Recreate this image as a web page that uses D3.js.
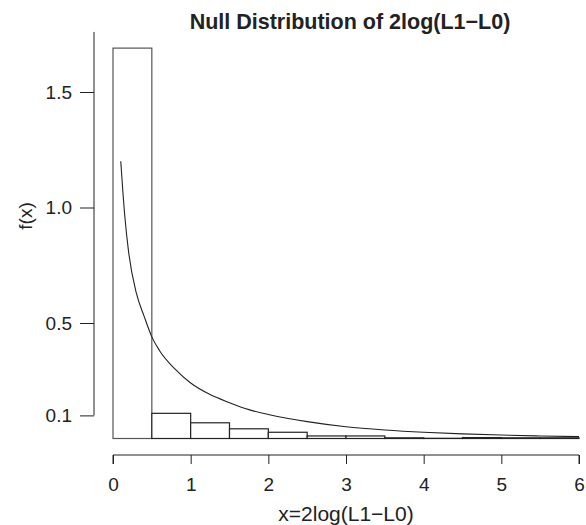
<html>
<script src='https://d3js.org/d3.v7.min.js'></script>
<body style="margin:0">
<svg width=586 height=525></svg>
<script>
// histogram bins (width 0.5) and density heights
var binStarts = [0, 0.5, 1, 1.5, 2, 2.5, 3, 3.5, 4, 4.5, 5, 5.5];
var binHeights = [1.69, 0.109, 0.068, 0.042, 0.027, 0.011, 0.011, 0.003, 0.001, 0.004, 0.003, 0.003];
var binWidth = 0.5;

// overlaid density curve
var curveX = [0.1, 0.15, 0.2, 0.3, 0.4, 0.5, 0.6, 0.8, 1, 1.25, 1.5, 1.75, 2, 2.5, 3, 3.5, 4, 4.5, 5, 5.5, 6];
var curveY = [1.20, 0.97, 0.81, 0.63, 0.53, 0.44, 0.38, 0.30, 0.24, 0.19, 0.155, 0.125, 0.104, 0.073, 0.051, 0.037, 0.027, 0.020, 0.015, 0.011, 0.008];

var xTicks = [0, 1, 2, 3, 4, 5, 6];
var yTicks = [0.1, 0.5, 1.0, 1.5];

var x = d3.scaleLinear().domain([0, 6]).range([113, 579]);
var y = d3.scaleLinear().domain([0, 1.5]).range([438.5, 92]);

var svg = d3.select('svg');
var font = "'Liberation Sans', Arial, sans-serif";

svg.append("text")
    .attr("x", 350).attr("y", 29)
    .attr("text-anchor", "middle")
    .attr("font-family", font).attr("font-size", "21.5px").attr("font-weight", "bold")
    .attr("fill", "#222")
    .text("Null Distribution of 2log(L1\u2212L0)");

// bars
svg.append("g").selectAll("rect")
    .data(binStarts)
    .join("rect")
    .attr("x", d => x(d))
    .attr("width", d => x(d + binWidth) - x(d))
    .attr("y", (d, i) => y(binHeights[i]))
    .attr("height", (d, i) => y(0) - y(binHeights[i]))
    .attr("fill", "white")
    .attr("stroke", (d, i) => i == 0 ? "#555" : "#222")
    .attr("stroke-width", 1.2);

// curve
var pts = curveX.map((d, i) => [d, curveY[i]]);
svg.append("path")
    .datum(pts)
    .attr("d", d3.line().x(d => x(d[0])).y(d => y(d[1])).curve(d3.curveMonotoneX))
    .attr("fill", "none")
    .attr("stroke", "#222")
    .attr("stroke-width", 1.1);

// x axis
var xAxis = svg.append("g").attr("transform", "translate(0,455)")
    .call(d3.axisBottom(x).tickValues(xTicks).tickSize(9).tickPadding(13.5).tickFormat(d3.format("d")));
xAxis.select(".domain").attr("d", "M" + x(0) + ",9V0H" + x(6) + "V9").attr("stroke", "#222");
xAxis.selectAll("line").attr("stroke", "#222");
xAxis.selectAll("text").attr("font-family", font).attr("font-size", "19px").attr("fill", "#222");

// y axis
var yAxis = svg.append("g").attr("transform", "translate(94,0)")
    .call(d3.axisLeft(y).tickValues(yTicks).tickSize(14).tickPadding(8).tickFormat(d3.format(".1f")));
yAxis.select(".domain").attr("d", "M0," + y(0.1) + "V" + y(1.76)).attr("stroke", "#222");
yAxis.selectAll("line").attr("stroke", "#222");
yAxis.selectAll("text").attr("font-family", font).attr("font-size", "19px").attr("fill", "#222");

svg.append("text")
    .attr("x", 346).attr("y", 521)
    .attr("text-anchor", "middle")
    .attr("font-family", font).attr("font-size", "21px")
    .attr("fill", "#222")
    .text("x=2log(L1\u2212L0)");

svg.append("text")
    .attr("transform", "translate(32,216) rotate(-90)")
    .attr("text-anchor", "middle")
    .attr("font-family", font).attr("font-size", "19px")
    .attr("fill", "#222")
    .text("f(x)");
</script>
</body>
</html>
